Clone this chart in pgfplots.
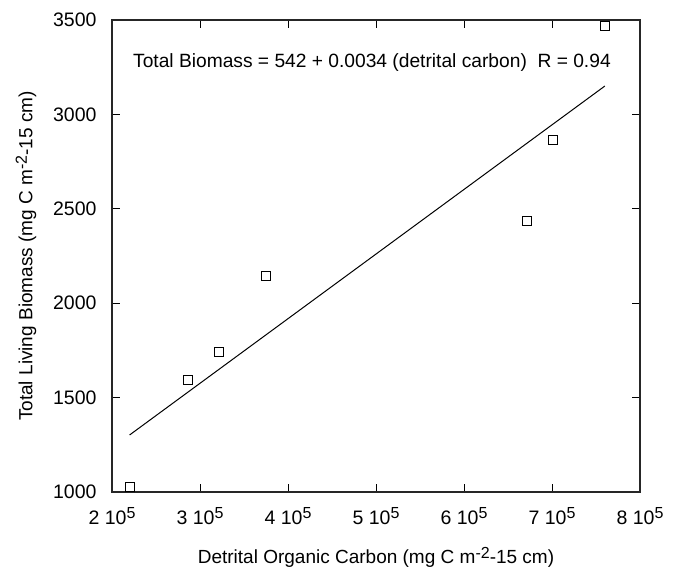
\documentclass[border=0pt]{standalone}
\usepackage{pgfplots}
\pgfplotsset{compat=1.18}
\usepackage{fontspec}
\setmainfont{Liberation Sans}
\newcommand{\supr}[1]{\raisebox{0.55ex}{\fontsize{16}{16}\selectfont #1}}
\begin{document}
\begin{tikzpicture}
\begin{axis}[
scale only axis,
width=528pt,
height=472pt,
xmin=200000, xmax=800000,
ymin=1000, ymax=3500,
xtick={200000,300000,400000,500000,600000,700000,800000},
xticklabels={2 10\supr{5},3 10\supr{5},4 10\supr{5},5 10\supr{5},6 10\supr{5},7 10\supr{5},8 10\supr{5}},
ytick={1000,1500,2000,2500,3000,3500},
scaled ticks=false,
/pgf/number format/assume math mode=true,
/pgf/number format/1000 sep={},
tick align=inside,
major tick length=8pt,
tick style={black, line width=0.9pt},
axis line style={black!85, line width=1.1pt},
ticklabel style={font=\fontsize{19.5}{23}\selectfont},
label style={font=\fontsize{19}{22}\selectfont},
xticklabel style={yshift=-12pt},
yticklabel style={xshift=-12pt},
xlabel={Detrital Organic Carbon (mg C m\supr{-2}-15 cm)},
ylabel={Total Living Biomass (mg C m\supr{-2}-15 cm)},
xlabel style={yshift=-16pt},
ylabel style={yshift=10pt},
]
\addplot[only marks, mark=square, mark size=4.5pt, mark options={black, line width=0.9pt}] table {
220000 1026
286000 1593
322000 1741
375000 2144
672000 2437
701000 2864
760000 3468
};
\addplot[black, line width=1pt] table {
220000 1302
760000 3150
};
\node[anchor=west, font=\fontsize{19.2}{22}\selectfont] at (axis cs:220000,3277)
  {Total Biomass = 542 + 0.0034 (detrital carbon)\ \ R = 0.94};
\end{axis}
\path ([shift={(-112pt,-78pt)}]current axis.south west) rectangle ([shift={(38pt,20pt)}]current axis.north east);
\end{tikzpicture}
\end{document}
